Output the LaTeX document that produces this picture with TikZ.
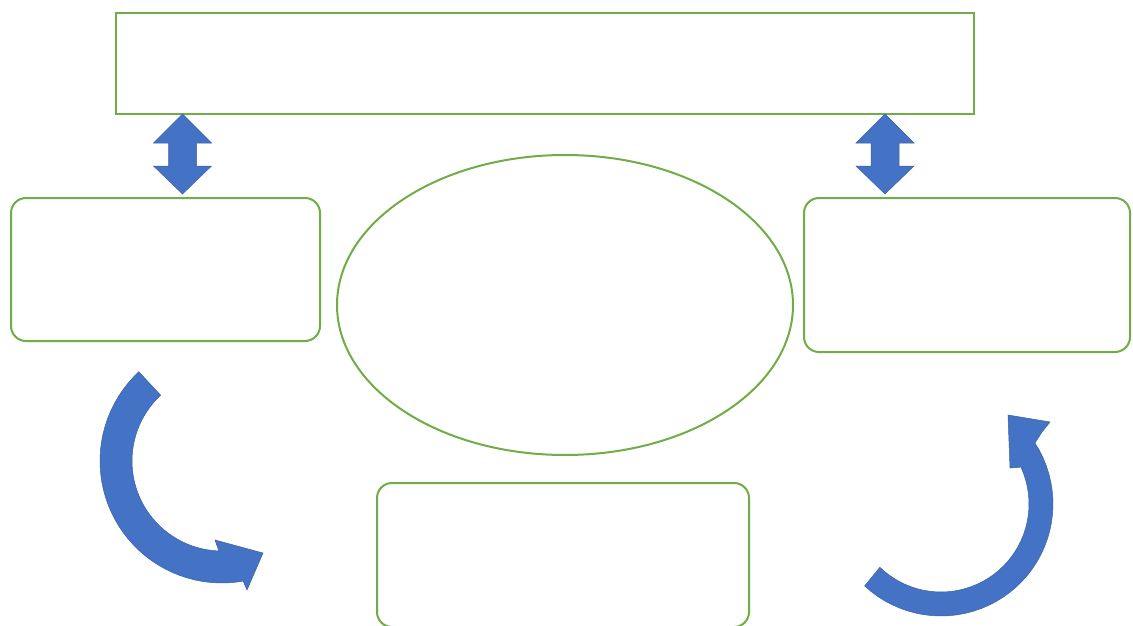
\documentclass[tikz,border=0pt]{standalone}
\usetikzlibrary{shapes.geometric}
\definecolor{boxgreen}{HTML}{70AD47}
\definecolor{arrowblue}{HTML}{4472C4}
\tikzset{
  sqbox/.style={draw=boxgreen, line width=2pt, inner sep=0pt, anchor=north west},
  rbox/.style={sqbox, rounded corners=15pt},
  oval/.style={draw=boxgreen, line width=2pt, ellipse, inner sep=0pt},
  bluefill/.style={fill=arrowblue, draw=arrowblue!85!black, line width=0.5pt},
}
\newcommand\mydblarrow[1]{%
  \filldraw[bluefill] (#1,114) -- (#1+29,143) -- (#1+14,143) -- (#1+14,166) -- (#1+29,166)
    -- (#1,194) -- (#1-29,166) -- (#1-14,166) -- (#1-14,143) -- (#1-29,143) -- cycle;}
\begin{document}
\begin{tikzpicture}[x=1pt, y=-1pt]
\useasboundingbox (0,0) rectangle (1133,626);
\fill[white] (0,0) rectangle (1133,626);
% boxes
\node[sqbox, minimum width=858pt, minimum height=101pt] (top) at (115,12) {};
\node[rbox, minimum width=309pt, minimum height=143pt] (left) at (10,197) {};
\node[rbox, minimum width=326pt, minimum height=154pt] (right) at (803,197) {};
\node[oval, minimum width=456pt, minimum height=300pt] (center) at (565,305) {};
\node[rbox, minimum width=372pt, minimum height=144pt] (bottom) at (376,482) {};
% double arrows
\mydblarrow{182.5}
\mydblarrow{885}
% left curved arrow
\filldraw[bluefill] plot[domain=227:80, samples=40] ({222+122*cos(\x)},{461+122*sin(\x)})
  -- (247,590) -- (263,553) -- (215,540)
  -- plot[domain=92:227, samples=40] ({222+90*cos(\x)},{461+90*sin(\x)}) -- cycle;
% right curved arrow
\filldraw[bluefill] (1023,467) -- (1010,468) -- (1008,415) -- (1050,422) -- (1042,432)
  -- plot[domain=-33:133, samples=40] ({941+112*cos(\x)},{504+112*sin(\x)})
  -- plot[domain=134:-24, samples=40] ({941+88*cos(\x)},{504+88*sin(\x)}) -- cycle;
\end{tikzpicture}
\end{document}
